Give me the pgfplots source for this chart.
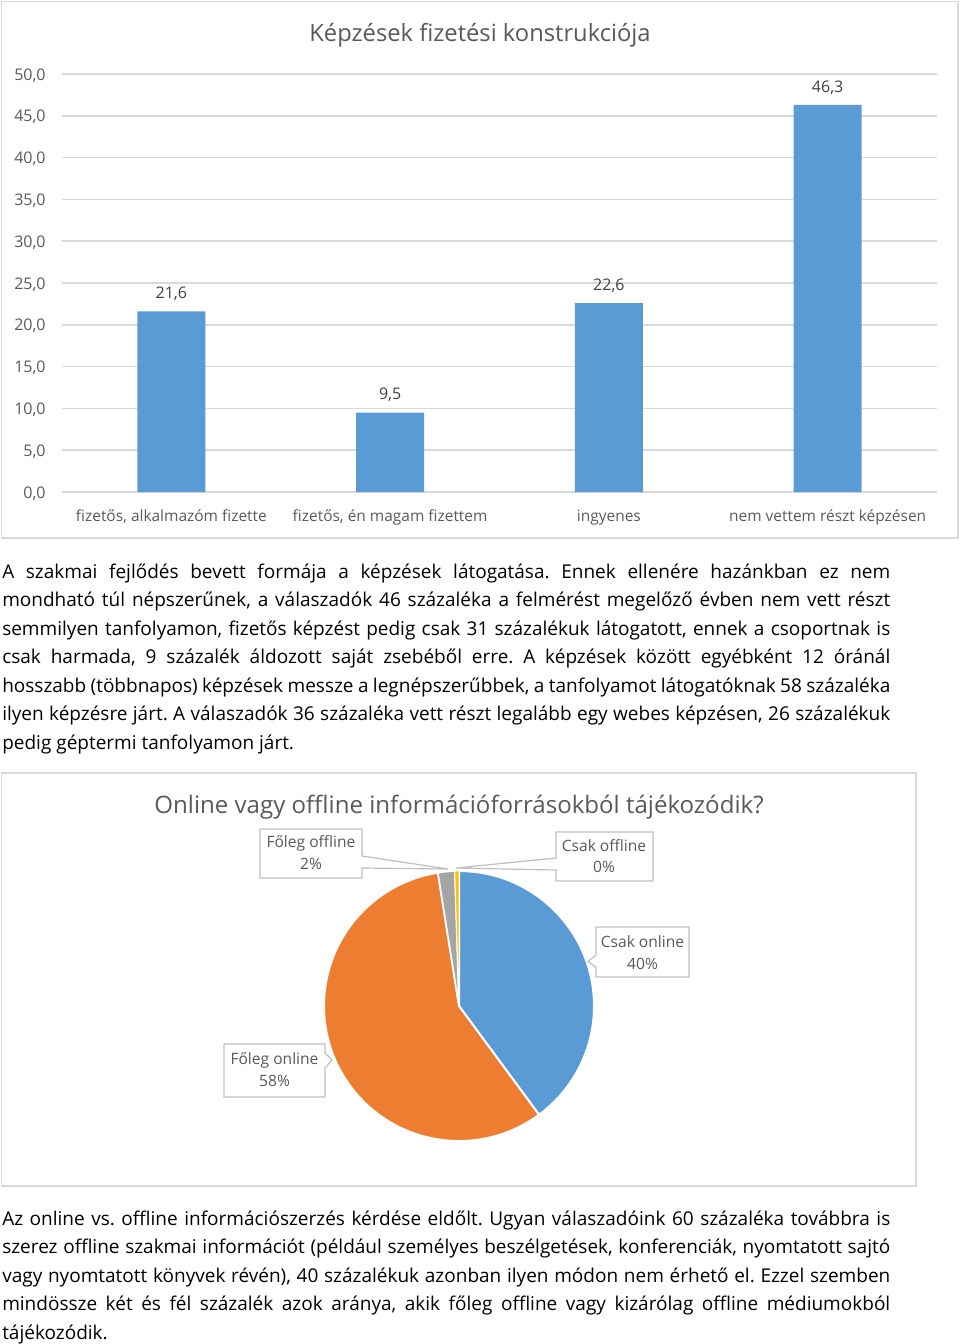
\documentclass[border=0pt]{standalone}
\usepackage{fontspec}
\setmainfont{Open Sans}
\usepackage{pgfplots}
\pgfplotsset{compat=1.18}
\usepackage{pgfplotstable}
\frenchspacing

\definecolor{barblue}{HTML}{5B9BD5}
\definecolor{pieorange}{HTML}{ED7D31}
\definecolor{piegray}{HTML}{A5A5A5}
\definecolor{pieyellow}{HTML}{FFC000}
\definecolor{gridgray}{HTML}{D9D9D9}
\definecolor{txtgray}{HTML}{595959}
\definecolor{lblgray}{HTML}{404040}
\definecolor{boxgray}{HTML}{BFBFBF}

% bar chart data
\pgfplotstableread{
x val
0 21.6
1 9.5
2 22.6
3 46.3
}\bardata

% pie data (percent): Csak online, Foleg online, Foleg offline, Csak offline
\def\pA{39.9}
\def\pB{57.6}
\def\pC{2.0}
\def\pD{0.5}
\pgfmathsetmacro{\aA}{90-3.6*\pA}
\pgfmathsetmacro{\aB}{\aA-3.6*\pB}
\pgfmathsetmacro{\aC}{\aB-3.6*\pC}
\pgfmathsetmacro{\aD}{\aC-3.6*\pD}

\newcommand{\bodyfont}{\fontsize{14.25pt}{21.4pt}\selectfont\frenchspacing}
\newcommand{\jl}[1]{\makebox[666pt][s]{#1}}

\begin{document}
\begin{tikzpicture}
\path[use as bounding box] (0,0) rectangle (720pt,-1008pt);
\clip (0,0) rectangle (720pt,-1008pt);

% ---------- frames and texts (px coordinates) ----------
\begin{scope}[x=0.75pt,y=-0.75pt]
\draw[gridgray, line width=1.1pt] (1.5,1.5) rectangle (958,538);
\draw[gridgray, line width=1.1pt] (1.5,773) rectangle (916,1186);

\node[anchor=base, inner sep=0, text=txtgray, font=\fontsize{17.8pt}{20pt}\selectfont] at (480,42) {Képzések fizetési konstrukciója};
\node[anchor=base, inner sep=0, text=txtgray, font=\fontsize{18.05pt}{20pt}\selectfont] at (459,813.5) {Online vagy offline információforrásokból tájékozódik?};

% paragraph 1
\begin{scope}[every node/.style={anchor=base west, inner sep=0, font=\bodyfont}]
\node at (2,578)   {\jl{A szakmai fejlődés bevett formája a képzések látogatása. Ennek ellenére hazánkban ez nem}};
\node at (2,606.5) {\jl{mondható túl népszerűnek, a válaszadók 46 százaléka a felmérést megelőző évben nem vett részt}};
\node at (2,635)   {\jl{semmilyen tanfolyamon, fizetős képzést pedig csak 31 százalékuk látogatott, ennek a csoportnak is}};
\node at (2,663.5) {\jl{csak harmada, 9 százalék áldozott saját zsebéből erre. A képzések között egyébként 12 óránál}};
\node at (2,692)   {\jl{hosszabb (többnapos) képzések messze a legnépszerűbbek, a tanfolyamot látogatóknak 58 százaléka}};
\node at (2,720.5) {\jl{ilyen képzésre járt. A válaszadók 36 százaléka vett részt legalább egy webes képzésen, 26 százalékuk}};
\node at (2,749)   {pedig géptermi tanfolyamon járt.};
% paragraph 2
\node at (2,1225)   {\jl{Az online vs. offline információszerzés kérdése eldőlt. Ugyan válaszadóink 60 százaléka továbbra is}};
\node at (2,1253.5) {\jl{szerez offline szakmai információt (például személyes beszélgetések, konferenciák, nyomtatott sajtó}};
\node at (2,1282)   {\jl{vagy nyomtatott könyvek révén), 40 százalékuk azonban ilyen módon nem érhető el. Ezzel szemben}};
\node at (2,1310.5) {\jl{mindössze két és fél százalék azok aránya, akik főleg offline vagy kizárólag offline médiumokból}};
\node at (2,1339)   {tájékozódik.};
\end{scope}
\end{scope}

% ---------- bar chart ----------
\begin{axis}[
  at={(46.5pt,-369pt)}, anchor=south west,
  scale only axis, width=656.25pt, height=313.5pt,
  xmin=-0.5, xmax=3.5, ymin=0, ymax=50,
  enlargelimits=false,
  ybar, bar width=51pt,
  axis line style={draw=none},
  major tick length=0pt,
  ymajorgrids, grid style={gridgray, line width=1.1pt},
  ytick={0,5,...,50},
  xtick={0,1,2,3},
  xticklabels={{fizetős, alkalmazóm fizette},{fizetős, én magam fizettem},{ingyenes},{nem vettem részt képzésen}},
  xticklabel style={font=\fontsize{11.6pt}{14pt}\selectfont, text=txtgray, anchor=base, yshift=-22.1pt},
  yticklabel style={font=\fontsize{12pt}{14pt}\selectfont, text=txtgray, anchor=east, xshift=-8.75pt, yshift=-1pt},
  /pgf/number format/fixed,
  /pgf/number format/fixed zerofill,
  /pgf/number format/precision=1,
  /pgf/number format/use comma,
  /pgf/number format/assume math mode=true,
  nodes near coords,
  every node near coord/.append style={font=\fontsize{12pt}{14pt}\selectfont, text=lblgray, anchor=base, yshift=9.5pt},
]
\addplot[fill=barblue, draw=none] table[x=x, y=val] {\bardata};
\end{axis}

% ---------- pie chart ----------
\begin{axis}[
  at={(344.25pt,-754.5pt)}, anchor=center,
  scale only axis, width=202.5pt, height=202.5pt,
  xmin=-1, xmax=1, ymin=-1, ymax=1,
  hide axis,
]
\fill[barblue, draw=white, line width=1.5pt] (axis cs:0,0) -- ++(90:101.25pt) arc[start angle=90, end angle=\aA, radius=101.25pt] -- cycle;
\fill[pieorange, draw=white, line width=1.5pt] (axis cs:0,0) -- ++(\aA:101.25pt) arc[start angle=\aA, end angle=\aB, radius=101.25pt] -- cycle;
\fill[piegray, draw=white, line width=1.2pt] (axis cs:0,0) -- ++(\aB:101.25pt) arc[start angle=\aB, end angle=\aC, radius=101.25pt] -- cycle;
\fill[pieyellow, draw=white, line width=0.6pt] (axis cs:0,0) -- ++(\aC:101.25pt) arc[start angle=\aC, end angle=\aD, radius=101.25pt] -- cycle;
\end{axis}

% ---------- callouts ----------
\begin{scope}[x=0.75pt,y=-0.75pt]
\tikzset{co/.style={fill=white, draw=boxgray, line width=0.9pt, line join=miter},
         cl/.style={anchor=base, inner sep=0, text=txtgray, font=\fontsize{11.7pt}{14pt}\selectfont}}
% Foleg offline
\draw[co] (260,829) -- (362,829) -- (362,856) -- (448,869) -- (362,868) -- (362,878) -- (260,878) -- cycle;
\node[cl] at (311,847) {Főleg offline};
\node[cl] at (311,869.5) {2\%};
% Csak offline
\draw[co] (556,832) -- (653,832) -- (653,881) -- (556,881) -- (556,870) -- (456,868) -- (556,858) -- cycle;
\node[cl] at (604,851) {Csak offline};
\node[cl] at (604,872.5) {0\%};
% Csak online
\draw[co] (596,927) -- (689,927) -- (689,977) -- (596,977) -- (596,967) -- (588,961.5) -- (596,955) -- cycle;
\node[cl] at (642.5,947) {Csak online};
\node[cl] at (642.5,969.5) {40\%};
% Foleg online
\draw[co] (224,1044) -- (325,1044) -- (325,1053) -- (332,1060) -- (325,1068) -- (325,1097) -- (224,1097) -- cycle;
\node[cl] at (274.5,1064) {Főleg online};
\node[cl] at (274.5,1086.5) {58\%};
\end{scope}
\end{tikzpicture}
\end{document}
